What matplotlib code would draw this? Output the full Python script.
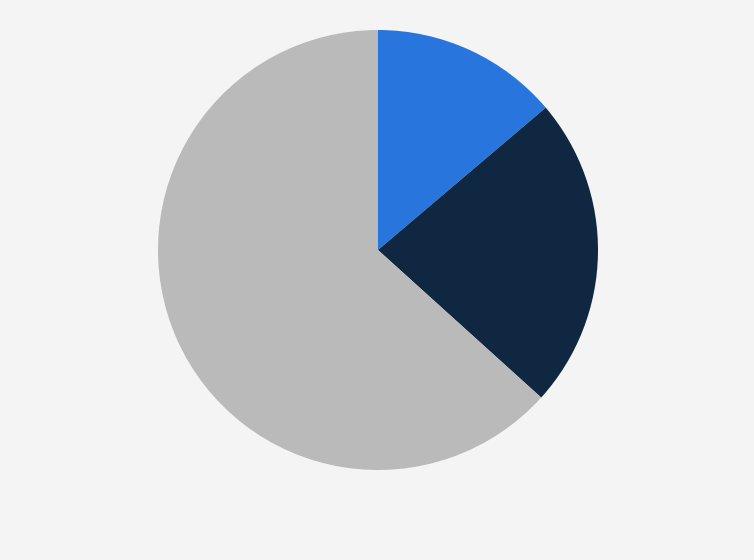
import matplotlib
matplotlib.use("Agg")
import matplotlib.pyplot as plt

# slice shares (clockwise from 12 o'clock)
labels = ["Segment A", "Segment B", "Segment C"]
shares = [13.8, 22.9, 63.3]
colors = ["#2876dd", "#0f2740", "#bababa"]

bg = "#f4f4f4"

fig = plt.figure(figsize=(7.54, 5.6), dpi=100)
fig.patch.set_facecolor(bg)

# pie centred near (378, 250) px with radius ~220 px
ax = fig.add_axes((158 / 754, 90 / 560, 440 / 754, 440 / 560))
ax.set_facecolor(bg)
ax.pie(
    shares,
    colors=colors,
    startangle=90,
    counterclock=False,
    radius=1.0,
    wedgeprops={"linewidth": 0},
)
ax.set_xlim(-1, 1)
ax.set_ylim(-1, 1)
ax.set_aspect("equal")
ax.axis("off")

fig.savefig("out.png", dpi=100, facecolor=bg)
